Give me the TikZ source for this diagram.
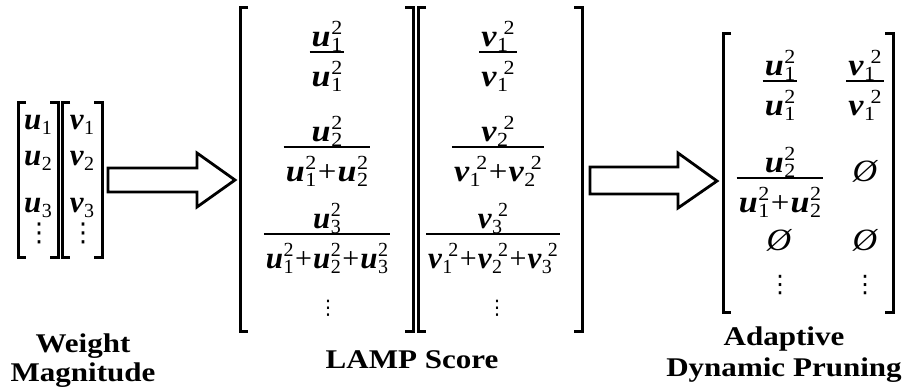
\documentclass[tikz,border=0pt]{standalone}
\usepackage{fontspec}
\setmainfont{Liberation Serif}
\newfontfamily\dvs{DejaVu Sans}
\newbox\frA \newbox\frB \newdimen\frW
\newcommand\SX[2][1.1]{\scalebox{#1}[1]{#2}}
\newcommand\LSX[1]{\scalebox{1.15}[1]{#1}}
% letter with subscript #3 and superscript #4; #1 shifts the superscript right
\newcommand\E[4][0pt]{\mbox{\fontsize{31}{33}\selectfont\bfseries\itshape #2}%
  \mbox{\fontsize{20}{20}\selectfont\kern0.5pt\rlap{\kern#1\raisebox{11.5pt}{#4}}\raisebox{-5pt}{#3}\kern#1}}
\newcommand\pl{\kern1.5pt{\fontsize{30}{30}\selectfont+}\kern1pt}
\newcommand\myfr[2]{\setbox\frA\hbox{#1}\setbox\frB\hbox{#2}%
  \frW=\wd\frA \ifdim\wd\frB>\frW \frW=\wd\frB\fi \advance\frW by 4pt
  \vbox{\offinterlineskip\hbox to\frW{\hss\box\frA\hss}\kern0pt
        \hrule height1.8pt\kern8pt\hbox to\frW{\hss\box\frB\hss}}}
\newcommand\vd[1]{{\fontsize{#1}{#1}\selectfont\dvs ⋮}}
\newcommand\emp{{\fontsize{31}{31}\selectfont\itshape Ø}}
\begin{document}
\begin{tikzpicture}[x=1pt,y=-1pt,
  br/.style={line width=3pt, line cap=butt, line join=miter},
  lab/.style={font=\fontsize{27}{30}\selectfont\bfseries, inner sep=0, anchor=base},
  mth/.style={inner sep=0, anchor=base},
  blockarrow/.style={line width=2.8pt, line join=miter, fill=white}]
\useasboundingbox (0,0) rectangle (904,391);
% ---------- left matrices ----------
\draw[br] (26,102) -- (18,102) -- (18,257) -- (26,257);
\draw[br] (50,102) -- (58,102) -- (58,257) -- (50,257);
\draw[br] (70,102) -- (62,102) -- (62,257) -- (70,257);
\draw[br] (94,102) -- (102,102) -- (102,257) -- (94,257);
\node[mth] (u1) at (38,129) {\SX[1]{\E{u}{1}{}}};
\node[mth] (u2) at (38,165) {\SX[1]{\E{u}{2}{}}};
\node[mth] (u3) at (38,212) {\SX[1]{\E{u}{3}{}}};
\node[mth] (ud) at (39,241) {\vd{26}};
\node[mth] (v1) at (82,129) {\SX[1]{\E{v}{1}{}}};
\node[mth] (v2) at (82,165) {\SX[1]{\E{v}{2}{}}};
\node[mth] (v3) at (82,212) {\SX[1]{\E{v}{3}{}}};
\node[mth] (vd) at (83,241) {\vd{26}};
\node[lab] (wm1) at (83,352) {\LSX{Weight}};
\node[lab] (wm2) at (83,381) {\LSX{Magnitude}};
% ---------- arrow 1 ----------
\draw[blockarrow] (108,168) -- (197,168) -- (197,153) -- (235,180) -- (197,207) -- (197,192) -- (108,192) -- cycle;
% ---------- LAMP matrices ----------
\draw[br] (248,7) -- (240,7) -- (240,331) -- (248,331);
\draw[br] (405,7) -- (413,7) -- (413,331) -- (405,331);
\draw[br] (426,7) -- (418,7) -- (418,331) -- (426,331);
\draw[br] (574,7) -- (582,7) -- (582,331) -- (574,331);
\node[mth] (l11) at (327,86) {\SX{\myfr{\E{u}{1}{2}}{\E{u}{1}{2}}}};
\node[mth] (l21) at (327,181) {\SX{\myfr{\E{u}{2}{2}}{\E{u}{1}{2}\pl\E{u}{2}{2}}}};
\node[mth] (l31) at (327,268) {\SX[1]{\myfr{\E{u}{3}{2}}{\E{u}{1}{2}\pl\E{u}{2}{2}\pl\E{u}{3}{2}}}};
\node[mth] (l41) at (328,314) {\vd{20}};
\node[mth] (l12) at (498,86) {\SX{\myfr{\E[6pt]{v}{1}{2}}{\E[6pt]{v}{1}{2}}}};
\node[mth] (l22) at (498,181) {\SX{\myfr{\E[6pt]{v}{2}{2}}{\E[6pt]{v}{1}{2}\pl\E[6pt]{v}{2}{2}}}};
\node[mth] (l32) at (493,268) {\SX[1]{\myfr{\E[6pt]{v}{3}{2}}{\E[6pt]{v}{1}{2}\pl\E[6pt]{v}{2}{2}\pl\E[6pt]{v}{3}{2}}}};
\node[mth] (l42) at (497,314) {\vd{20}};
\node[lab] (lamp) at (412,368) {\LSX{LAMP Score}};
% ---------- arrow 2 ----------
\draw[blockarrow] (590,167) -- (678,167) -- (678,153) -- (717,181) -- (678,208) -- (678,194) -- (590,194) -- cycle;
% ---------- pruned matrix ----------
\draw[br] (731,33) -- (723,33) -- (723,312) -- (731,312);
\draw[br] (885,33) -- (893,33) -- (893,312) -- (885,312);
\node[mth] (p11) at (780,115) {\SX{\myfr{\E{u}{1}{2}}{\E{u}{1}{2}}}};
\node[mth] (p21) at (780,212) {\SX{\myfr{\E{u}{2}{2}}{\E{u}{1}{2}\pl\E{u}{2}{2}}}};
\node[mth] (p31) at (779,250) {\SX{\emp}};
\node[mth] (p41) at (780,292) {\vd{24}};
\node[mth] (p12) at (865,115) {\SX{\myfr{\E[6pt]{v}{1}{2}}{\E[6pt]{v}{1}{2}}}};
\node[mth] (p22) at (865,181) {\SX{\emp}};
\node[mth] (p32) at (865,250) {\SX{\emp}};
\node[mth] (p42) at (865,292) {\vd{24}};
\node[lab] (adp1) at (784,345) {\LSX{Adaptive}};
\node[lab] (adp2) at (784,376) {\LSX{Dynamic Pruning}};
\end{tikzpicture}
\end{document}
